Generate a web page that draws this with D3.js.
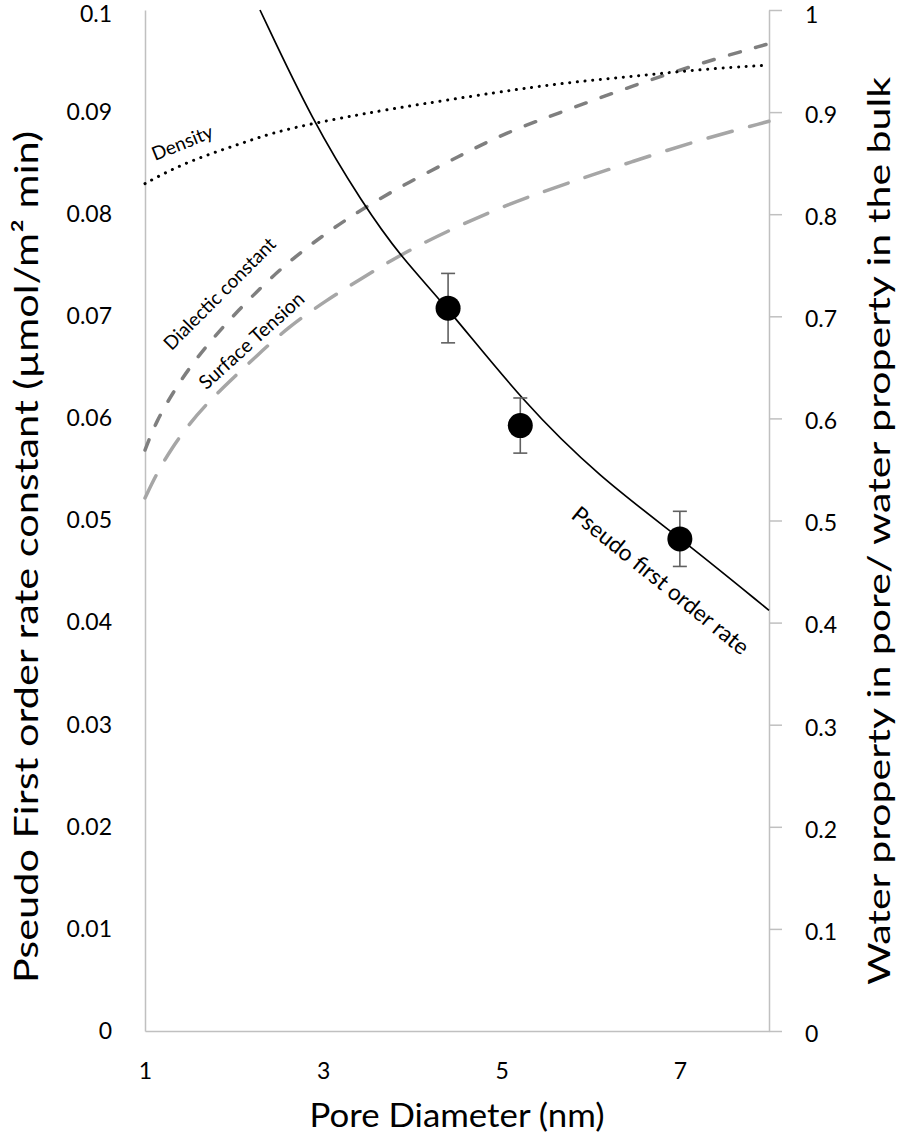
<!DOCTYPE html>
<html><head><meta charset="utf-8">
<script src="https://cdn.jsdelivr.net/npm/d3@7"></script>
<style>body{margin:0;background:#fff}svg{display:block}text{font-family:Lato,"Open Sans",sans-serif;fill:#000}</style>
</head><body>
<svg id="c" width="898" height="1136"></svg>
<script>
// ---- data ----
const xTicks = [1, 3, 5, 7];
const leftTicks = [0, 0.01, 0.02, 0.03, 0.04, 0.05, 0.06, 0.07, 0.08, 0.09, 0.1];
const rightTicks = [0, 0.1, 0.2, 0.3, 0.4, 0.5, 0.6, 0.7, 0.8, 0.9, 1];

// Pseudo first order rate (left axis)
const rateD = [2.29, 2.885, 3.446, 3.861, 4.399, 5.24, 6.104, 7.002, 8.0];
const rateV = [0.1, 0.089, 0.081, 0.0759, 0.0708, 0.0616, 0.0542, 0.0483, 0.0412];
// measured points with error bars (left axis)
const ptD = [4.4, 5.21, 7.0];
const ptV = [0.0708, 0.0593, 0.0482];
const ptLo = [0.0674, 0.0566, 0.0455];
const ptHi = [0.0742, 0.062, 0.0509];

// Water properties (right axis)
const densD = [1, 1.32, 1.69, 2.07, 2.44, 2.89, 3.37, 3.75, 4.98, 5.73, 6.48, 7.23, 8];
const densV = [0.830, 0.845, 0.858, 0.869, 0.880, 0.889, 0.897, 0.903, 0.920, 0.929, 0.935, 0.942, 0.946];
const dielD = [1, 1.13, 1.32, 1.5, 1.8, 2.29, 2.66, 3.04, 3.45, 3.97, 4.53, 5.02, 5.73, 6.48, 7.23, 8];
const dielV = [0.569, 0.598, 0.626, 0.650, 0.683, 0.728, 0.757, 0.782, 0.806, 0.832, 0.857, 0.879, 0.902, 0.926, 0.948, 0.967];
const surfD = [1, 1.13, 1.3, 1.5, 1.69, 1.92, 2.25, 2.6, 3.04, 3.41, 3.82, 4.35, 5.1, 5.73, 6.48, 7.23, 8];
const surfV = [0.522, 0.546, 0.571, 0.595, 0.614, 0.634, 0.661, 0.689, 0.716, 0.736, 0.758, 0.782, 0.811, 0.830, 0.852, 0.873, 0.891];

const svg = d3.select("#c");
const x = d3.scaleLinear().domain([1, 8]).range([145, 769]);
const yL = d3.scaleLinear().domain([0, 0.1]).range([1031, 10]);
const yR = d3.scaleLinear().domain([0, 1]).range([1031, 10]);
const axisCol = "#c0c0c0";

// axes
const gL = svg.append("g").attr("transform", "translate(145,0)")
  .call(d3.axisLeft(yL).tickValues(leftTicks).tickSize(0).tickPadding(33).tickFormat(d => String(+d.toFixed(2))));
gL.select(".domain").attr("stroke", axisCol).attr("stroke-width", 1.5);
gL.selectAll("text").attr("font-size", 23).attr("font-family", "Lato")
  .attr("dy", d => d === 0.1 ? "0.5em" : "0.32em");

const gR = svg.append("g").attr("transform", "translate(769,0)")
  .call(d3.axisRight(yR).tickValues(rightTicks).tickSize(13).tickPadding(23).tickSizeOuter(0).tickFormat(d => String(+d.toFixed(1))));
gR.select(".domain").attr("stroke", axisCol).attr("stroke-width", 1.5);
gR.selectAll("line").attr("stroke", axisCol).attr("stroke-width", 1.5);
gR.selectAll("text").attr("font-size", 23).attr("font-family", "Lato")
  .attr("dy", d => d === 1 ? "0.55em" : "0.45em");

const gB = svg.append("g").attr("transform", "translate(0,1031)")
  .call(d3.axisBottom(x).tickValues(xTicks).tickSize(0).tickPadding(32).tickSizeOuter(0).tickFormat(d3.format("d")));
gB.select(".domain").attr("stroke", axisCol).attr("stroke-width", 1.5);
gB.selectAll("text").attr("font-size", 23).attr("font-family", "Lato");
svg.selectAll(".tick text").attr("fill", "#000");

// titles
svg.append("text").attr("transform", "translate(25,557) rotate(-90)").attr("text-anchor", "middle")
  .attr("dominant-baseline", "central").attr("font-size", 33)
  .attr("textLength", 852).attr("lengthAdjust", "spacingAndGlyphs")
  .text("Pseudo First order rate constant (µmol/m² min)");
svg.append("text").attr("transform", "translate(878,531) rotate(-90)").attr("text-anchor", "middle")
  .attr("dominant-baseline", "central").attr("font-size", 31)
  .attr("textLength", 908).attr("lengthAdjust", "spacingAndGlyphs")
  .text("Water property in pore/ water property in the bulk");
svg.append("text").attr("x", 457).attr("y", 1127).attr("text-anchor", "middle")
  .attr("font-size", 32).attr("textLength", 295).attr("lengthAdjust", "spacingAndGlyphs")
  .text("Pore Diameter (nm)");

// curves
const lineR = (D, V) => d3.line().x((d, i) => x(D[i])).y((d, i) => yR(V[i])).curve(d3.curveBasis)(D);
const lineL = (D, V) => d3.line().x((d, i) => x(D[i])).y((d, i) => yL(V[i])).curve(d3.curveBasis)(D);

svg.append("path").attr("d", lineR(surfD, surfV)).attr("fill", "none").attr("stroke", "#a6a6a6")
  .attr("stroke-width", 3.5).attr("stroke-dasharray", "25 18").attr("stroke-linecap", "round");
svg.append("path").attr("d", lineR(dielD, dielV)).attr("fill", "none").attr("stroke", "#7f7f7f")
  .attr("stroke-width", 3.5).attr("stroke-dasharray", "11 16").attr("stroke-linecap", "round");
svg.append("path").attr("d", lineR(densD, densV)).attr("fill", "none").attr("stroke", "#000")
  .attr("stroke-width", 3).attr("stroke-dasharray", "0.1 7.6").attr("stroke-linecap", "round");
svg.append("path").attr("d", lineL(rateD, rateV)).attr("fill", "none").attr("stroke", "#000")
  .attr("stroke-width", 1.7);

// error bars and points
const eb = svg.append("g").attr("stroke", "#606060").attr("stroke-width", 1.6);
ptD.forEach((d, i) => {
  eb.append("line").attr("x1", x(d)).attr("x2", x(d)).attr("y1", yL(ptLo[i])).attr("y2", yL(ptHi[i]));
  eb.append("line").attr("x1", x(d) - 7).attr("x2", x(d) + 7).attr("y1", yL(ptLo[i])).attr("y2", yL(ptLo[i]));
  eb.append("line").attr("x1", x(d) - 7).attr("x2", x(d) + 7).attr("y1", yL(ptHi[i])).attr("y2", yL(ptHi[i]));
});
svg.append("g").selectAll("circle").data(ptD).join("circle")
  .attr("cx", d => x(d)).attr("cy", (d, i) => yL(ptV[i])).attr("r", 12.5).attr("fill", "#000");

// curve labels
const lab = (t, cx, cy, ang, fs) => svg.append("text").attr("transform", `translate(${cx},${cy}) rotate(${ang})`)
  .attr("text-anchor", "middle").attr("dominant-baseline", "central").attr("font-size", fs).attr("fill", "#222").text(t);
lab("Density", 182, 142, -22, 19);
lab("Dialectic constant", 219, 293, -45, 19);
lab("Surface Tension", 251, 340, -42, 19.5);
lab("Pseudo first order rate", 661, 580, 39, 22.5);
</script>
</body></html>
